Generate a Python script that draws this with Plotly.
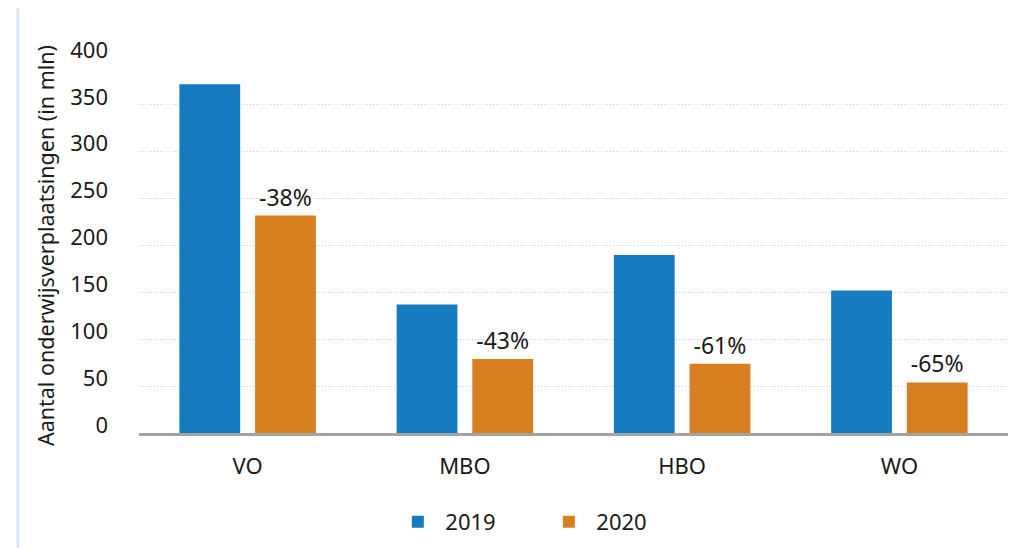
import plotly.graph_objects as go

categories = ["VO", "MBO", "HBO", "WO"]
values_2019 = [372, 137, 190, 152]
values_2020 = [232, 79, 74, 54]
change_labels = ["-38%", "-43%", "-61%", "-65%"]
series_names = ["2019", "2020"]
y_ticks = [0, 50, 100, 150, 200, 250, 300, 350, 400]

BLUE = "#177bc1"
ORANGE = "#d88020"
FONT = "Noto Sans"
TXT = "#1a1a1a"

fig = go.Figure()
fig.add_trace(go.Bar(x=categories, y=values_2019, name=series_names[0],
                     marker=dict(color=BLUE, line=dict(width=0))))
fig.add_trace(go.Bar(x=categories, y=values_2020, name=series_names[1],
                     marker=dict(color=ORANGE, line=dict(width=0)),
                     text=change_labels, textposition="outside",
                     textfont=dict(family=FONT, size=23, color=TXT),
                     cliponaxis=False))

fig.update_layout(
    width=1009, height=540,
    paper_bgcolor="white", plot_bgcolor="white",
    margin=dict(l=131, r=9, t=50, b=115, autoexpand=False),
    barmode="group", bargap=0.303, bargroupgap=0.197,
    font=dict(family=FONT, size=22, color=TXT),
    showlegend=True,
    legend=dict(orientation="h", x=0.463, xanchor="center", y=-0.237, yanchor="middle",
                font=dict(family=FONT, size=22, color=TXT), entrywidth=91,
                itemwidth=45, bgcolor="rgba(0,0,0,0)"),
    xaxis=dict(showline=True, linecolor="#a3a3a3", linewidth=3, showgrid=False,
               ticks="", ticklabelstandoff=12, automargin=False,
               tickfont=dict(family=FONT, size=22, color=TXT)),
    yaxis=dict(range=[0, 400], tickvals=y_ticks, showgrid=True, gridcolor="#cccccc",
               griddash="1px,2px", gridwidth=1, zeroline=False, showline=False,
               ticks="", ticklabelstandoff=30, ticklabelshift=-8, automargin=False,
               tickfont=dict(family=FONT, size=22, color=TXT),
               title=dict(text="Aantal onderwijsverplaatsingen (in mln)",
                          font=dict(family=FONT, size=21.5, color=TXT), standoff=9)),
    shapes=[dict(type="line", xref="paper", yref="paper", x0=-0.1395, x1=-0.1395,
                 y0=-0.31, y1=1.16, line=dict(color="#dbe9f6", width=3))],
)

fig.write_html("out.html")
